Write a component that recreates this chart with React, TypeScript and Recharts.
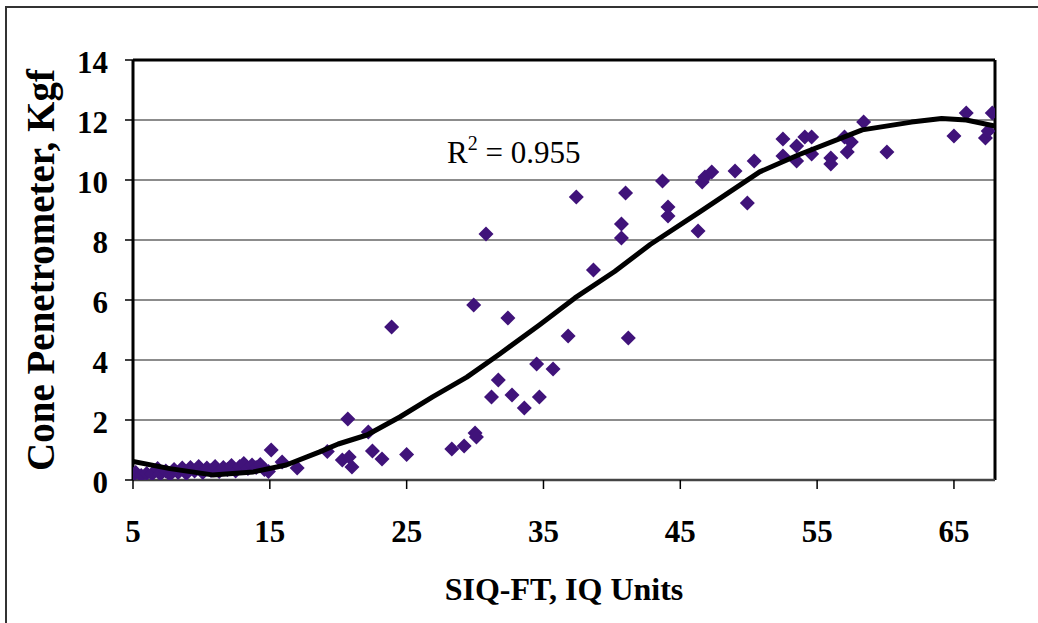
import React from 'react';
import { ScatterChart, Scatter, XAxis, YAxis, CartesianGrid, ReferenceLine, ReferenceDot, Label } from 'recharts';

const xTicks = [5, 15, 25, 35, 45, 55, 65];
const yTicks = [0, 2, 4, 6, 8, 10, 12, 14];

const siqX = [
  5.0, 5.2, 5.6, 6.0, 6.4, 6.8, 7.0, 7.4, 7.7, 8.0, 8.3, 8.6, 8.9, 9.2, 9.5, 9.8,
  10.1, 10.4, 10.7, 11.0, 11.3, 11.6, 11.9, 12.2, 12.5, 12.8, 13.1, 13.4, 13.7, 14.0,
  14.3, 14.6, 14.9, 15.1, 15.9, 17.0, 19.2, 20.3, 20.7, 20.8, 21.0, 22.2, 22.5, 23.2,
  23.9, 25.0, 28.3, 29.2, 30.0, 30.1, 29.9, 30.8, 31.2, 31.7, 32.4, 32.7, 33.6, 34.5,
  34.7, 35.7, 36.8, 37.4, 38.65, 40.7, 40.7, 41.0, 41.2, 43.7, 44.1, 44.1, 46.3, 46.6,
  46.8, 47.3, 49.0, 49.9, 50.4, 52.5, 52.5, 53.5, 53.5, 54.1, 54.6, 54.6, 56.0, 56.0,
  57.0, 57.2, 57.5, 58.4, 60.1, 65.0, 65.9, 67.3, 67.5, 67.8,
];
const coneKgf = [
  0.18, 0.25, 0.15, 0.22, 0.2, 0.38, 0.2, 0.3, 0.18, 0.35, 0.25, 0.4, 0.22, 0.42, 0.3, 0.45,
  0.25, 0.4, 0.32, 0.45, 0.28, 0.42, 0.35, 0.48, 0.3, 0.45, 0.55, 0.38, 0.5, 0.42,
  0.52, 0.35, 0.28, 1.0, 0.6, 0.4, 0.95, 0.67, 2.03, 0.77, 0.43, 1.6, 0.97, 0.7,
  5.1, 0.85, 1.03, 1.13, 1.57, 1.43, 5.83, 8.2, 2.77, 3.33, 5.4, 2.83, 2.4, 3.87,
  2.77, 3.7, 4.8, 9.43, 7.0, 8.53, 8.07, 9.57, 4.73, 9.97, 9.1, 8.8, 8.3, 9.93,
  10.1, 10.27, 10.3, 9.23, 10.63, 10.8, 11.37, 11.13, 10.63, 11.43, 11.43, 10.87, 10.73, 10.53,
  11.43, 10.93, 11.27, 11.93, 10.93, 11.47, 12.23, 11.4, 11.63, 12.23,
];

const trendX = [5, 7.7, 10.8, 13.8, 16.2, 18.6, 20, 22.1, 24.5, 26.9, 29.4, 31.8, 34.7, 37.3, 40.2, 42.8, 46.4, 50.8, 53.7, 58.3, 61.9, 64.1, 65.9, 68];
const trendY = [0.62, 0.38, 0.17, 0.27, 0.5, 0.93, 1.2, 1.5, 2.1, 2.77, 3.43, 4.2, 5.17, 6.07, 6.95, 7.85, 8.93, 10.27, 10.85, 11.67, 11.93, 12.05, 12.0, 11.8];

const points = siqX.map((x, i) => ({ x, y: coneKgf[i] }));
const trend = trendX.map((x, i) => ({ x, y: trendY[i] }));

const FONT = '"Liberation Serif", "Times New Roman", serif';
const MARK = '#40137A';

const Diamond = (props: any) => {
  const { cx, cy } = props;
  if (cx == null || cy == null) return <g />;
  const h = 7.5;
  return <polygon points={`${cx},${cy - h} ${cx + h},${cy} ${cx},${cy + h} ${cx - h},${cy}`} fill={MARK} />;
};
const NoMark = () => <g />;

const XTick = (props: any) => {
  const { x, y, payload } = props;
  return (
    <text x={x} y={y + 53} textAnchor="middle" fontFamily={FONT} fontSize={31} fontWeight="bold" fill="#000">
      {payload.value}
    </text>
  );
};
const YTick = (props: any) => {
  const { x, y, payload } = props;
  return (
    <text x={x} y={y + 13} textAnchor="end" fontFamily={FONT} fontSize={31} fontWeight="bold" fill="#000">
      {payload.value}
    </text>
  );
};

const R2Label = (props: any) => {
  const vb = props.viewBox || {};
  return (
    <text x={vb.x} y={vb.y} textAnchor="start" fontFamily={FONT} fontSize={31} fill="#000">
      R<tspan fontSize={20} dy={-13}>2</tspan>
      <tspan dy={13}> = 0.955</tspan>
    </text>
  );
};

export default function App() {
  return (
    <div style={{ position: 'absolute', left: 0, top: 0, width: 1038, height: 623, overflow: 'hidden', background: '#fff' }}>
      <div style={{ position: 'absolute', left: 5, top: 6, width: 1100, height: 700, border: '2px solid #333', boxSizing: 'border-box' }} />
      <div style={{ position: 'absolute', left: 0, top: 0 }}>
        <ScatterChart width={1038} height={623} margin={{ top: 60, right: 43, bottom: 0, left: 0 }}>
          <CartesianGrid horizontal vertical={false} stroke="#666" strokeWidth={1.3} />
          <XAxis
            type="number"
            dataKey="x"
            domain={[5, 68]}
            ticks={xTicks}
            allowDataOverflow
            height={143}
            tickSize={9}
            tickMargin={0}
            tick={<XTick />}
            axisLine={{ stroke: '#444', strokeWidth: 2.5 }}
            tickLine={{ stroke: '#000', strokeWidth: 1.5 }}
          >
            <Label value="SIQ-FT, IQ Units" position="insideBottom" offset={23} style={{ fontFamily: FONT, fontSize: 32, fontWeight: 'bold', fill: '#000' }} />
          </XAxis>
          <YAxis
            type="number"
            dataKey="y"
            domain={[0, 14]}
            ticks={yTicks}
            allowDataOverflow
            width={133}
            tickSize={8}
            tickMargin={17}
            tick={<YTick />}
            axisLine={{ stroke: '#000', strokeWidth: 3 }}
            tickLine={{ stroke: '#000', strokeWidth: 1.5 }}
          >
            <Label value="Cone Penetrometer, Kgf" angle={-90} position="insideLeft" offset={40} style={{ fontFamily: FONT, fontSize: 39, fontWeight: 'bold', fill: '#000', textAnchor: 'middle' }} />
          </YAxis>
          <ReferenceLine y={14} stroke="#000" strokeWidth={3} />
          <ReferenceLine x={68} stroke="#000" strokeWidth={3} />
          <Scatter data={points} shape={<Diamond />} isAnimationActive={false} />
          <Scatter
            data={trend}
            shape={<NoMark />}
            stroke="#000"
            strokeWidth={5}
            line={{ stroke: '#000', strokeWidth: 5, strokeLinejoin: 'round' }}
            lineType="joint"
            fill="none"
            isAnimationActive={false}
          />
          <ReferenceDot x={27.95} y={10.57} r={0} fill="none" stroke="none" ifOverflow="visible" label={<R2Label />} />
        </ScatterChart>
      </div>
    </div>
  );
}
